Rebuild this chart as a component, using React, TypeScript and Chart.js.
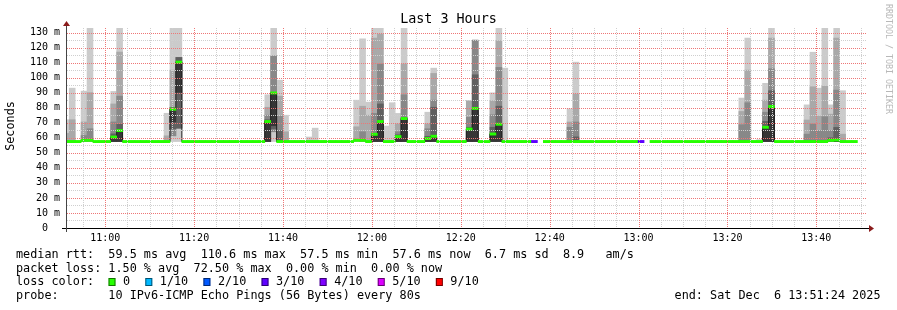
import React, { useEffect, useRef } from 'react';
import { Chart, registerables } from 'chart.js';

Chart.register(...registerables);

// ---------------- data ----------------
const B = 57.5; // baseline median rtt (ms)
const sampleCount = 134; // 80 s samples with data, index 0..133
const stepMinutes = 80 / 60;
const samplePhase = -0.12; // sample centre offset (in samples) from graph start
const spanMinutes = 180; // 10:51:24 .. 13:51:24
const startClock = '10:51:24';
const yMaxMs = 133;

const xTickLabels = ['11:00', '11:20', '11:40', '12:00', '12:20', '12:40', '13:00', '13:20', '13:40'];
const yTickValues = [0, 10, 20, 30, 40, 50, 60, 70, 80, 90, 100, 110, 120, 130];

const gapSamples = [80, 98];
const lossSamples = [79, 97];
const lossLevel = ['3/10', '3/10'];

const lossLabels = ['0', '1/10', '2/10', '3/10', '4/10', '5/10', '9/10'];
const lossColors = ['#26ff00', '#00b8ff', '#0059ff', '#5e00ff', '#7e00ff', '#dd00ff', '#ff0000'];

const spikeSamples = [0, 1, 3, 4, 8, 9, 17, 18, 19, 34, 35, 36, 37, 41, 42, 49, 50, 51, 52, 53, 54, 55, 56, 57, 61, 62, 68, 69, 72, 73, 74, 85, 86, 114, 115, 117, 118, 119, 125, 126, 127, 128, 129, 130, 131];
const spikeMedian = [57.5, 57.5, 58.3, 58.3, 60.5, 64.8, 57.5, 79, 110.3, 70.8, 89.8, 57.5, 57.5, 57.5, 57.5, 58.3, 58.3, 57.5, 62.3, 70.8, 57.5, 57.5, 60.8, 72.8, 59.5, 61, 65.8, 79.5, 62.5, 69, 57.5, 57.5, 57.5, 57.5, 57.5, 57.5, 67, 80.8, 57.5, 57.5, 57.5, 57.5, 58.3, 58.5, 57.5];

// smoke bands [low, high], outermost (lightest) first
const smokeBand1 = [[B, 72], [B, 93], [B, 91], [B, 133], [B, 90.8], [B, 133], [B, 76.3], [B, 133], [B, 133], [B, 88.6], [B, 133], [B, 98.3], [B, 75], [B, 60.5], [B, 66.4], [B, 85], [B, 125.8], [B, 83.7], [B, 133], [B, 133], [B, 67.8], [B, 83.3], [B, 76.2], [B, 133], [B, 77], [B, 106.3], [B, 84.6], [B, 124.9], [B, 89.9], [B, 133], [B, 106.3], [B, 79.3], [B, 110.3], [B, 86.4], [B, 126.3], [B, 58.8], [B, 96.2], [B, 133], [B, 81.9], [B, 116.9], [B, 93], [B, 133], [B, 81.9], [B, 133], [B, 91.3]];
const smokeBand2 = [[B, 63], [B, 72], [B, 70.5], [B, 90], [B, 82.5], [B, 117], [B, 61.3], [61.3, 105], [66.4, 113.4], [B, 80.3], [64, 114.4], [B, 87.7], [B, 64], null, null, [B, 67.3], [B, 81], [B, 75], [B, 126.3], [B, 128.9], null, null, [B, 69.2], [B, 109], [B, 69.2], [B, 102.8], [B, 84.6], [B, 124.9], [B, 84.6], [B, 124.5], null, [B, 70.5], [B, 89], [B, 77.5], [B, 105], null, [B, 85], [B, 126.3], [B, 71.8], [B, 93.9], [B, 74.4], [B, 94.3], [B, 75.7], [B, 126.3], [B, 62.4]];
const smokeBand3 = [null, null, [B, 61.5], [B, 66], [B, 70.5], [B, 87.7], null, [61.3, 80.3], [66.4, 113.4], [B, 75], [64, 114.4], [B, 74.4], null, null, null, null, [B, 64], null, [B, 76.2], [B, 109], null, null, [B, 64], [B, 88.6], [B, 66], [B, 85], [B, 73.6], [B, 124.9], [B, 75.3], [B, 106.8], null, [B, 67], [B, 70.5], [B, 68.7], [B, 83.3], null, [B, 77], [B, 105.9], [B, 62.4], [B, 69.2], [B, 64.8], [B, 74], [B, 64.8], [B, 91.7], null];
const smokeBand4 = [null, null, null, null, [B, 62.6], [B, 69], null, [66, 80], [66.4, 113.4], [B, 72], [66, 90], [B, 64.8], null, null, null, null, null, null, [B, 63], [B, 82.5], null, null, [B, 62], [B, 73.5], [B, 61], [B, 80.3], [B, 67], [B, 101.9], [B, 67], [B, 81], null, null, [B, 60.6], null, null, null, [B, 70.9], [B, 91.3], null, null, null, null, [B, 60], [B, 66.9], null];
const smokeBand5 = [null, null, null, null, [B, 60.5], [B, 64.8], null, [70.5, 79], [90.2, 110.3], [B, 70.8], [68, 89.8], null, null, null, null, null, null, null, [B, 62.3], [B, 70.8], null, null, [B, 60.8], [B, 72.8], [B, 59.5], [B, 61], [B, 65.8], [B, 79.5], [B, 62.5], [B, 69], null, null, null, null, null, null, [B, 67], [B, 80.8], null, null, null, null, null, [B, 59], null];

const smokeColors = ['#cbcbcb', '#a9a9a9', '#888888', '#606060', '#363636'];

const titleText = 'Last 3 Hours';
const yAxisTitle = 'Seconds';
const sideText = 'RRDTOOL / TOBI OETIKER';
const legendRtt = 'median rtt:  59.5 ms avg  110.6 ms max  57.5 ms min  57.6 ms now  6.7 ms sd  8.9   am/s';
const legendLoss = 'packet loss: 1.50 % avg  72.50 % max  0.00 % min  0.00 % now';
const legendLossColor = 'loss color:';
const legendProbe = 'probe:       10 IPv6-ICMP Echo Pings (56 Bytes) every 80s';
const legendEnd = 'end: Sat Dec  6 13:51:24 2025';

// ---------------- helpers ----------------
const MONO = '"DejaVu Sans Mono", monospace';
const MAJOR_GRID = '#ee7676';
const MINOR_GRID = '#cfcfcf';
const clockToMin = (s: string) => {
  const p = s.split(':').map(Number);
  return p[0] * 60 + p[1] + (p[2] || 0) / 60;
};
const startMin = clockToMin(startClock);
const xMajor = xTickLabels.map((l) => clockToMin(l) - startMin);
const xGrid: number[] = [];
for (let k = -Math.floor(xMajor[0] / 5); xMajor[0] + 5 * k <= spanMinutes; k++) {
  const v = xMajor[0] + 5 * k;
  if (v > 0) xGrid.push(v);
}
const isMajorX = (v: number) => xMajor.findIndex((m) => Math.abs(m - v) < 1e-6);

const decor = {
  id: 'decor',
  afterDatasetsDraw(chart: any) {
    const { ctx, chartArea: a, scales } = chart;
    const xs = scales.x;
    const ys = scales.y;
    ctx.save();
    ctx.lineWidth = 1;
    ctx.setLineDash([1, 1]);
    for (let v = 5; v <= yMaxMs; v += 5) {
      const py = Math.round(ys.getPixelForValue(v)) + 0.5;
      ctx.strokeStyle = v % 10 === 0 ? MAJOR_GRID : MINOR_GRID;
      ctx.beginPath();
      ctx.moveTo(a.left, py);
      ctx.lineTo(a.right, py);
      ctx.stroke();
    }
    for (const t of xGrid) {
      const px = Math.round(xs.getPixelForValue(t)) + 0.5;
      ctx.strokeStyle = isMajorX(t) >= 0 ? MAJOR_GRID : MINOR_GRID;
      ctx.beginPath();
      ctx.moveTo(px, a.top);
      ctx.lineTo(px, a.bottom);
      ctx.stroke();
    }
    ctx.restore();
  },
  afterDraw(chart: any) {
    const { ctx, chartArea: a } = chart;
    ctx.save();
    // axes
    const ax = a.left - 0.5;
    const ay = a.bottom + 0.5;
    ctx.strokeStyle = '#000';
    ctx.lineWidth = 1;
    ctx.beginPath();
    ctx.moveTo(a.left - 5, ay);
    ctx.lineTo(a.right + 3, ay);
    ctx.stroke();
    ctx.strokeStyle = '#444';
    ctx.beginPath();
    ctx.moveTo(ax, a.bottom + 4);
    ctx.lineTo(ax, a.top - 2);
    ctx.stroke();
    ctx.fillStyle = '#8b1c1c';
    ctx.beginPath();
    ctx.moveTo(a.right + 2, ay - 3.5);
    ctx.lineTo(a.right + 2, ay + 3.5);
    ctx.lineTo(a.right + 7, ay);
    ctx.closePath();
    ctx.fill();
    ctx.beginPath();
    ctx.moveTo(ax - 3.5, a.top - 2);
    ctx.lineTo(ax + 3.5, a.top - 2);
    ctx.lineTo(ax, a.top - 7);
    ctx.closePath();
    ctx.fill();

    // title
    ctx.fillStyle = '#000';
    ctx.textBaseline = 'middle';
    ctx.textAlign = 'center';
    ctx.font = `13.4px ${MONO}`;
    ctx.fillText(titleText, 448.5, 20);

    // y axis title
    ctx.save();
    ctx.translate(11, 126);
    ctx.rotate(-Math.PI / 2);
    ctx.font = `11.8px ${MONO}`;
    ctx.fillText(yAxisTitle, 0, 0);
    ctx.restore();

    // side watermark
    ctx.save();
    ctx.translate(888, 4);
    ctx.rotate(Math.PI / 2);
    ctx.textAlign = 'left';
    ctx.fillStyle = '#b8b8b8';
    ctx.font = `8.3px ${MONO}`;
    ctx.fillText(sideText, 0, 0);
    ctx.restore();

    // legend
    ctx.textAlign = 'left';
    ctx.fillStyle = '#000';
    ctx.font = `11.8px ${MONO}`;
    ctx.fillText(legendRtt, 16, 255);
    ctx.fillText(legendLoss, 16, 268.5);
    ctx.fillText(legendLossColor, 16, 282.3);
    let bx = 108.5;
    lossLabels.forEach((lbl, i) => {
      ctx.fillStyle = lossColors[i];
      ctx.fillRect(bx, 278, 7, 8);
      ctx.strokeStyle = 'rgba(0,0,0,0.55)';
      ctx.strokeRect(bx + 0.5, 278.5, 6, 7);
      ctx.fillStyle = '#000';
      const tx = bx + 14.5;
      ctx.fillText(lbl, tx, 282.3);
      bx = tx + ctx.measureText(lbl).width + 15.2;
    });
    ctx.fillText(legendProbe, 16, 296);
    ctx.textAlign = 'right';
    ctx.fillText(legendEnd, 880.5, 296);
    ctx.restore();
  },
};

export default function App() {
  const ref = useRef<HTMLCanvasElement>(null);
  useEffect(() => {
    document.body.style.margin = '0';
    const canvas = ref.current;
    if (!canvas) return;
    const tOf = (j: number) => (j + samplePhase) * stepMinutes;
    const spikeIndex = new Map<number, number>();
    spikeSamples.forEach((j, i) => spikeIndex.set(j, i));

    const medianPts: any[] = [];
    const lossPts: any[] = [];
    const lossCols: string[] = [];
    for (let j = 0; j < sampleCount; j++) {
      const x = tOf(j);
      if (gapSamples.includes(j)) {
        medianPts.push({ x, y: null });
        continue;
      }
      const k = spikeIndex.get(j);
      const m = k === undefined ? B : spikeMedian[k];
      medianPts.push({ x, y: m });
      lossPts.push({ x, y: [m - 0.75, m + 0.75] });
      const li = lossSamples.indexOf(j);
      lossCols.push(li >= 0 ? lossColors[lossLabels.indexOf(lossLevel[li])] : lossColors[0]);
    }

    const bands = [smokeBand1, smokeBand2, smokeBand3, smokeBand4, smokeBand5];
    const smokeSets = bands.map((band, b) => ({
      type: 'bar' as const,
      label: `smoke ${b + 1}`,
      data: band
        .map((v, i) => (v ? { x: tOf(spikeSamples[i]), y: v } : null))
        .filter((p) => p !== null),
      backgroundColor: smokeColors[b],
      borderWidth: 0,
      grouped: false,
      barPercentage: 1,
      categoryPercentage: 1,
      order: 6 - b,
      clip: 0,
    }));

    const chart = new Chart(canvas, {
      type: 'bar',
      data: {
        datasets: [
          {
            type: 'bar',
            label: 'loss',
            data: lossPts,
            backgroundColor: lossCols,
            borderWidth: 0,
            grouped: false,
            barPercentage: 1,
            categoryPercentage: 1,
            order: 0,
            clip: 0,
          } as any,
          {
            type: 'line',
            label: 'median',
            data: medianPts,
            stepped: 'middle',
            borderColor: '#202020',
            borderWidth: 1,
            pointRadius: 0,
            fill: false,
            order: 1,
            spanGaps: false,
          } as any,
          ...(smokeSets as any[]),
        ],
      },
      options: {
        responsive: false,
        animation: false,
        events: [],
        layout: { padding: { top: 28, right: 30, left: 0, bottom: 0 }, autoPadding: false },
        plugins: {
          legend: { display: false },
          title: { display: false },
          tooltip: { enabled: false },
        },
        scales: {
          x: {
            type: 'linear',
            min: 0,
            max: spanMinutes,
            offset: false,
            grid: { display: false, drawTicks: false },
            border: { display: false },
            afterBuildTicks: (s: any) => {
              s.ticks = xGrid.map((v) => ({ value: v }));
            },
            afterFit: (s: any) => {
              s.height = 82;
            },
            ticks: {
              autoSkip: false,
              maxRotation: 0,
              minRotation: 0,
              padding: 4,
              color: '#000',
              font: { family: MONO, size: 10 },
              callback: (v: any) => {
                const i = isMajorX(Number(v));
                return i >= 0 ? xTickLabels[i] : '';
              },
            },
          },
          y: {
            type: 'linear',
            min: 0,
            max: yMaxMs,
            grid: { display: false, drawTicks: false },
            border: { display: false },
            afterBuildTicks: (s: any) => {
              s.ticks = yTickValues.map((v) => ({ value: v }));
            },
            afterFit: (s: any) => {
              s.width = 67;
            },
            ticks: {
              padding: 7,
              color: '#000',
              font: { family: MONO, size: 10 },
              callback: (v: any) => (Number(v) === 0 ? '0  ' : `${v} m`),
            },
          },
        } as any,
      },
      plugins: [decor],
    } as any);
    return () => chart.destroy();
  }, []);

  return (
    <div style={{ position: 'absolute', left: 0, top: 0 }}>
      <canvas ref={ref} width={897} height={310} style={{ display: 'block' }} />
    </div>
  );
}
